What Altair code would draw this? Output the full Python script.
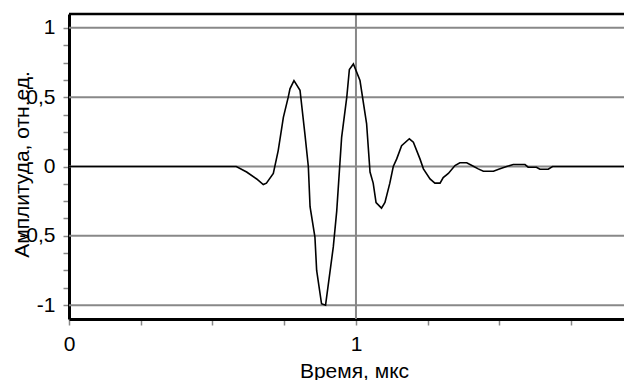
import altair as alt
import pandas as pd

# Time (µs) and amplitude
time_us = [0, 0.583, 0.619, 0.654, 0.677, 0.688, 0.712, 0.729, 0.747, 0.764, 0.770, 0.784,
           0.805, 0.822, 0.834, 0.840, 0.857, 0.863, 0.880, 0.894, 0.921, 0.933, 0.950, 0.968,
           0.977, 0.991, 1.014, 1.037, 1.049, 1.060, 1.070, 1.089, 1.101, 1.118, 1.130, 1.142,
           1.159, 1.186, 1.200, 1.223, 1.235, 1.258, 1.275, 1.293, 1.304, 1.322, 1.345, 1.362,
           1.386, 1.409, 1.426, 1.444, 1.479, 1.502, 1.525, 1.548, 1.589, 1.600, 1.629, 1.641,
           1.670, 1.685, 1.934]
amplitude = [0, 0, -0.04, -0.09, -0.13, -0.12, -0.05, 0.115, 0.355, 0.50, 0.56, 0.62,
             0.55, 0.235, 0.0, -0.29, -0.51, -0.75, -0.99, -1.0, -0.58, -0.32, 0.21, 0.50,
             0.70, 0.74, 0.62, 0.31, -0.04, -0.12, -0.26, -0.30, -0.26, -0.12, 0.0, 0.055,
             0.15, 0.20, 0.175, 0.055, -0.017, -0.09, -0.12, -0.12, -0.08, -0.05, 0.007, 0.027,
             0.027, 0.002, -0.017, -0.034, -0.034, -0.017, 0.0, 0.014, 0.014, -0.005, -0.005, -0.02,
             -0.02, 0.0, 0.0]

y_grid = [-1, -0.5, 0, 0.5, 1]
x_grid = [1]
x_ticks = [0, 0.25, 0.5, 0.75, 1.0, 1.25, 1.5, 1.75]
y_ticks = [-1 + 0.125 * i for i in range(17)]

X_DOMAIN = [0, 1.934]
Y_DOMAIN = [-1.1, 1.1]
FONT = "Liberation Sans"
FS = 21
X_TITLE = "Время, мкс"
Y_TITLE = "Амплитуда, отн.ед."

xs = alt.Scale(domain=X_DOMAIN, nice=False, zero=False)
ys = alt.Scale(domain=Y_DOMAIN, nice=False, zero=False)

x_axis = alt.Axis(values=x_ticks, grid=False, domainColor="black", domainWidth=3,
                  tickColor="#888888", tickWidth=1.5, tickSize=6,
                  labelExpr="datum.value == 0 || datum.value == 1 ? toString(datum.value) : ''",
                  labelFlush=False, labelOverlap=False, labelPadding=25,
                  labelBaseline="alphabetic",
                  labelFont=FONT, labelFontSize=FS, labelColor="black",
                  titleFont=FONT, titleFontSize=FS, titleFontWeight="normal",
                  titleColor="black", titleX=285, titleY=58,
                  titleBaseline="alphabetic", titleAnchor="middle")
y_axis = alt.Axis(values=y_ticks, grid=False, domainColor="black", domainWidth=3,
                  tickColor="#888888", tickWidth=1.5, tickSize=6,
                  labelExpr="abs(datum.value*2 - round(datum.value*2)) < 0.001 ? replace(toString(datum.value), '.', ',') : ''",
                  labelOverlap=False, labelPadding=8, labelBound=False,
                  labelFont=FONT, labelFontSize=FS, labelColor="black",
                  titleFont=FONT, titleFontSize=FS, titleFontWeight="normal",
                  titleColor="black", titleX=-37, titleY=150, titleAngle=270,
                  titleBaseline="bottom", titleAnchor="middle")

df = pd.DataFrame({"t": time_us, "a": amplitude})
hg = pd.DataFrame({"a": y_grid})
vg = pd.DataFrame({"t": x_grid})

hgrid = alt.Chart(hg).mark_rule(color="#888888", strokeWidth=2).encode(
    y=alt.Y("a:Q", scale=ys, title=Y_TITLE, axis=y_axis)
)
vgrid = alt.Chart(vg).mark_rule(color="#888888", strokeWidth=2).encode(
    x=alt.X("t:Q", scale=xs, title=X_TITLE, axis=x_axis)
)
line = alt.Chart(df).mark_line(color="black", strokeWidth=1.6).encode(
    x=alt.X("t:Q", scale=xs, title=X_TITLE, axis=x_axis),
    y=alt.Y("a:Q", scale=ys, title=Y_TITLE, axis=y_axis),
)
top_border = alt.Chart(pd.DataFrame({"v": [0]})).mark_rule(color="black", strokeWidth=2.5).encode(
    x=alt.value(0), x2=alt.value(555), y=alt.value(0)
)

chart = alt.layer(hgrid, vgrid, line, top_border).properties(
    width=555, height=305,
    autosize=alt.AutoSizeParams(type="none"),
    padding={"left": 69, "top": 14, "right": 0, "bottom": 61},
).configure_view(stroke=None).configure(background="white")

chart.save("out.html", embed_options={"renderer": "svg", "actions": False})
